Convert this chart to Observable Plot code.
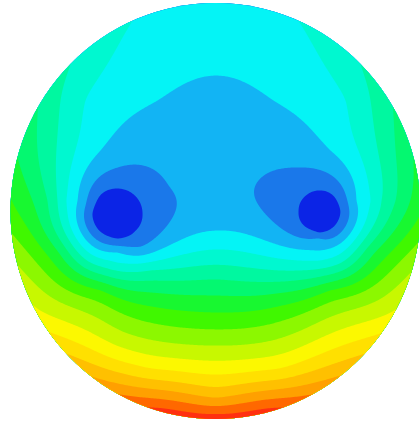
<!DOCTYPE html>
<html>
<head>
<meta charset="utf-8">
<script src="https://cdn.jsdelivr.net/npm/d3@7"></script>
<script src="https://cdn.jsdelivr.net/npm/@observablehq/plot@0.6"></script>
<style>
  html, body { margin: 0; padding: 0; background: #ffffff; }
  #chart svg { display: block; }
</style>
</head>
<body>
<div id="chart"></div>
<script>
// Sensor positions on the unit disc (x to the right, y upward) and the level read at each.
const sensorX = [
  // rim, every 15 degrees clockwise from the top
  0, 0.259, -0.259, 0.5, -0.5, 0.707, -0.707, 0.866, -0.866, 0.966, -0.966, 1, -1,
  0.966, -0.966, 0.866, -0.866, 0.707, -0.707, 0.5, -0.5, 0.259, -0.259, 0,
  // midline
  0, 0, 0, 0, 0, 0, 0, 0, 0, 0, 0, 0,
  // the two minima
  -0.478, 0.507,
  // inner ring round the left minimum
  -0.600, -0.564, -0.478, -0.392, -0.356, -0.392, -0.478, -0.564,
  // inner ring round the right minimum
  0.405, 0.435, 0.507, 0.579, 0.609, 0.579, 0.507, 0.435,
  // around the minima
  -0.634, -0.229, -0.366, -0.478, 0.649, 0.210, 0.502, 0.415,
  -0.283, 0.283, -0.561, 0.561, -0.673, 0.688, -0.478, 0.507,
  -0.727, 0.756, -0.634, 0.634, -0.478, 0.507,
  // sides
  -0.771, -0.820, -0.893, 0.810, 0.878, -0.756, 0.756,
  // lower half
  -0.610, -0.756, -0.561, 0.561, -0.317, 0.317, -0.317, 0.317,
  -0.463, 0.415, -0.512, -0.317, 0.317, 0.610, 0.756
];
const sensorY = [
  1, 0.966, 0.966, 0.866, 0.866, 0.707, 0.707, 0.5, 0.5, 0.259, 0.259, 0, 0,
  -0.259, -0.259, -0.5, -0.5, -0.707, -0.707, -0.866, -0.866, -0.966, -0.966, -1,
  0.82, 0.651, 0.435, 0.195, 0, -0.094, -0.185, -0.329, -0.488, -0.647, -0.786, -0.897,
  -0.012, -0.002,
  -0.012, 0.073, 0.108, 0.073, -0.012, -0.097, -0.132, -0.097,
  -0.002, 0.069, 0.099, 0.069, -0.002, -0.073, -0.103, -0.073,
  0.026, 0.123, -0.171, 0.209, 0.026, 0.147, -0.132, 0.209,
  0.531, 0.531, 0.291, 0.291, 0.050, 0.050, -0.200, -0.190,
  0.050, 0.050, 0.531, 0.531, -0.248, -0.238,
  0.050, 0.050, 0.050, 0.050, 0.050, 0.531, 0.531,
  -0.248, -0.190, -0.382, -0.382, -0.286, -0.286, -0.430, -0.430,
  -0.575, -0.575, -0.671, -0.767, -0.767, -0.250, -0.190
];
const sensorV = [
  3.6, 3.8, 3.8, 4.2, 4.2, 5.0, 5.0, 6.0, 6.0, 7.0, 7.0, 7.9, 8.3,
  9.8, 10.0, 11.2, 11.3, 13.2, 13.2, 14.8, 14.8, 16.4, 16.4, 16.6,
  3.35, 3.0, 2.5, 2.3, 2.4, 3.0, 4.0, 6.0, 8.0, 10.0, 12.0, 14.0,
  0.2, 0.3,
  1, 1, 1, 1, 1, 1, 1, 1,
  1, 1, 1, 1, 1, 1, 1, 1,
  2, 2, 2, 2, 2, 2, 2, 2,
  3, 3, 3, 3, 3, 3, 3, 3,
  4, 4, 4, 4, 4, 4,
  5.0, 6.0, 7.0, 5.0, 6.0, 5.0, 5.0,
  5.0, 6.7, 8.0, 8.0, 5.0, 5.0, 7.6, 7.6,
  10.0, 10.0, 11.5, 12.2, 12.2, 5.0, 6.5
];

// Contour levels and the colour of each band
const levels = d3.range(0, 17);
const bandColors = [
  "#0b24e6", "#1a78ea", "#12b4f4", "#04f4f6", "#00f8d0", "#00f8a0", "#04f870",
  "#18f830", "#40f800", "#8cf800", "#c8f800", "#fcf800", "#ffe000", "#ffc000",
  "#ffa000", "#ff6800", "#ff3010"
];

// Thin-plate spline through the sensors, evaluated on the contour grid
function thinPlateSpline(index, width, height, X, Y, V) {
  const s = Math.max(width, height);
  const idx = Array.from(index);
  const n = idx.length;
  const px = idx.map((i) => X[i] / s);
  const py = idx.map((i) => Y[i] / s);
  const pv = idx.map((i) => V[i]);
  const U = (r2) => (r2 > 0 ? 0.5 * r2 * Math.log(r2) : 0);
  const m = n + 3;
  const A = Array.from({length: m}, () => new Float64Array(m + 1));
  for (let i = 0; i < n; ++i) {
    for (let j = 0; j < n; ++j) {
      const dx = px[i] - px[j], dy = py[i] - py[j];
      A[i][j] = U(dx * dx + dy * dy);
    }
    A[i][n] = 1; A[i][n + 1] = px[i]; A[i][n + 2] = py[i];
    A[n][i] = 1; A[n + 1][i] = px[i]; A[n + 2][i] = py[i];
    A[i][m] = pv[i];
  }
  // Gaussian elimination with partial pivoting
  for (let c = 0; c < m; ++c) {
    let p = c;
    for (let r = c + 1; r < m; ++r) if (Math.abs(A[r][c]) > Math.abs(A[p][c])) p = r;
    [A[c], A[p]] = [A[p], A[c]];
    const d = A[c][c];
    for (let r = c + 1; r < m; ++r) {
      const f = A[r][c] / d;
      if (f === 0) continue;
      for (let k = c; k <= m; ++k) A[r][k] -= f * A[c][k];
    }
  }
  const sol = new Float64Array(m);
  for (let r = m - 1; r >= 0; --r) {
    let acc = A[r][m];
    for (let k = r + 1; k < m; ++k) acc -= A[r][k] * sol[k];
    sol[r] = acc / A[r][r];
  }
  const out = new Float64Array(width * height);
  for (let row = 0; row < height; ++row) {
    const y = (row + 0.5) / s;
    for (let col = 0; col < width; ++col) {
      const x = (col + 0.5) / s;
      let f = sol[n] + sol[n + 1] * x + sol[n + 2] * y;
      for (let i = 0; i < n; ++i) {
        const dx = x - px[i], dy = y - py[i];
        f += sol[i] * U(dx * dx + dy * dy);
      }
      out[row * width + col] = Math.max(0, f);
    }
  }
  return out;
}

const sensors = d3.range(sensorV.length);

const chart = Plot.plot({
  width: 419,
  height: 425,
  margin: 0,
  x: {domain: [-1.0488, 0.9951], axis: null},
  y: {domain: [-1.0312, 1.0120], axis: null},
  color: {type: "ordinal", domain: levels, range: bandColors},
  marks: [
    Plot.contour(sensors, {
      x: (i) => sensorX[i],
      y: (i) => sensorY[i],
      value: (i) => sensorV[i],
      fill: "value",
      thresholds: levels,
      interpolate: thinPlateSpline,
      pixelSize: 1
    })
  ]
});

// Clip the map to the head outline
const sx = chart.scale("x"), sy = chart.scale("y");
const cx = sx.apply(0), cy = sy.apply(0);
const rx = sx.apply(1) - cx, ry = cy - sy.apply(1);
const ns = "http://www.w3.org/2000/svg";
const defs = document.createElementNS(ns, "defs");
const clip = document.createElementNS(ns, "clipPath");
clip.setAttribute("id", "head-outline");
const ell = document.createElementNS(ns, "ellipse");
ell.setAttribute("cx", cx); ell.setAttribute("cy", cy);
ell.setAttribute("rx", rx); ell.setAttribute("ry", ry);
clip.appendChild(ell);
defs.appendChild(clip);
chart.insertBefore(defs, chart.firstChild);
const contourGroup = chart.querySelector('g[aria-label="contour"]');
if (contourGroup) contourGroup.setAttribute("clip-path", "url(#head-outline)");

document.getElementById("chart").appendChild(chart);
</script>
</body>
</html>
